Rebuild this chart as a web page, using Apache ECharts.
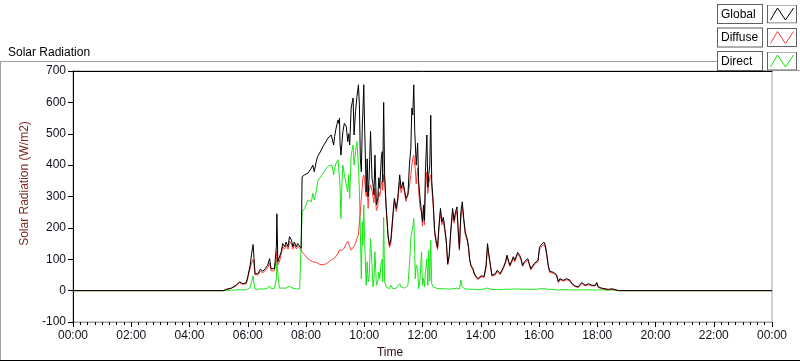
<!DOCTYPE html>
<html>
<head>
<meta charset="utf-8">
<script src="https://cdn.jsdelivr.net/npm/echarts@6/dist/echarts.min.js"></script>
<style>
html,body{margin:0;padding:0;background:#fff;}
#chart{width:800px;height:361px;}
</style>
</head>
<body>
<div id="chart"></div>
<script>
// ---- data (time of day, W/m2) ----
const times = [
"00:00","05:10","05:16","05:26","05:36","05:43","05:50","05:57","06:00","06:05",
"06:08","06:11","06:13","06:15","06:21","06:26","06:31","06:36","06:41","06:45",
"06:48","06:52","06:55","06:59","07:00","07:02","07:05","07:09","07:12","07:16",
"07:19","07:23","07:26","07:30","07:33","07:36","07:40","07:43","07:47","07:50",
"07:51","07:52","07:57","08:00","08:04","08:07","08:11","08:14","08:17","08:21",
"08:24","08:28","08:31","08:35","08:38","08:42","08:45","08:48","08:52","08:54",
"08:57","08:59","09:02","09:06","09:08","09:09","09:10","09:12","09:14","09:16",
"09:19","09:23","09:26","09:28","09:30","09:33","09:37","09:39","09:42","09:45",
"09:48","09:50","09:52","09:54","09:56","09:57","09:59","10:01","10:04","10:06",
"10:08","10:10","10:13","10:16","10:18","10:20","10:22","10:25","10:28","10:30",
"10:32","10:35","10:37","10:38","10:40","10:42","10:45","10:49","10:52","10:55",
"10:59","11:02","11:06","11:09","11:13","11:16","11:20","11:23","11:26","11:30",
"11:33","11:36","11:38","11:40","11:42","11:44","11:45","11:47","11:50","11:52",
"11:55","11:58","12:00","12:02","12:04","12:06","12:09","12:11","12:13","12:15",
"12:17","12:19","12:22","12:25","12:28","12:31","12:34","12:37","12:40","12:43",
"12:46","12:49","12:52","12:55","12:58","13:02","13:05","13:08","13:11","13:13",
"13:16","13:19","13:22","13:25","13:28","13:32","13:35","13:37","13:40","13:44",
"13:47","13:51","13:54","13:57","14:01","14:04","14:07","14:11","14:14","14:16",
"14:20","14:23","14:27","14:30","14:34","14:37","14:40","14:44","14:47","14:51",
"14:54","14:57","15:00","15:03","15:07","15:10","15:13","15:16","15:20","15:23",
"15:26","15:30","15:33","15:37","15:40","15:43","15:47","15:50","15:54","15:58",
"16:01","16:04","16:07","16:10","16:13","16:16","16:19","16:22","16:26","16:30",
"16:33","16:36","16:40","16:43","16:47","16:50","16:54","16:57","17:01","17:04",
"17:08","17:11","17:14","17:18","17:21","17:25","17:28","17:31","17:35","17:38",
"17:42","17:45","17:49","17:52","17:56","17:59","18:02","18:06","18:09","18:13",
"18:16","18:20","18:23","18:26","18:30","18:33","18:37","18:40","18:44","24:00"
];

const globalRad = [
0,0,4,8,17,28,22,25,44,81,
118,147,102,54,54,68,62,70,81,102,
70,68,70,140,245,92,97,124,150,140,
155,140,172,161,140,155,140,150,155,135,
129,363,369,374,374,379,390,400,379,411,
427,438,443,459,467,477,486,491,496,502,
464,491,518,544,533,550,475,432,470,507,
533,523,475,500,464,582,614,496,571,619,
656,592,420,379,528,560,656,507,315,420,
300,358,507,358,340,305,432,273,294,360,
326,420,443,347,600,369,273,177,145,166,
241,294,262,294,369,326,347,353,294,305,
400,454,582,560,656,507,475,400,470,350,
294,288,219,273,224,379,496,330,371,400,
559,351,283,192,160,138,209,262,219,234,
198,160,86,113,187,262,224,251,267,209,
134,251,283,230,187,166,138,102,80,70,
53,49,38,40,47,49,46,81,150,124,
81,49,44,54,65,60,54,49,76,92,
113,118,81,92,108,97,102,122,113,102,
81,92,97,102,86,70,76,86,86,97,
138,145,140,155,145,117,81,62,65,58,
54,51,28,38,36,33,30,38,44,33,
22,17,15,15,12,17,26,22,17,19,
22,19,17,15,17,26,12,8,8,6,
6,6,4,6,6,4,3,2,0,0
];

const diffuseRad = [
0,0,4,7,15,25,20,22,40,72,
88,100,82,50,50,62,57,64,73,88,
63,62,63,100,125,82,90,116,140,132,
146,132,158,148,132,146,133,142,146,130,
124,122,115,108,102,98,95,92,91,90,
87,84,81,82,83,86,89,93,97,100,
102,104,110,118,124,130,128,124,128,134,
136,150,158,150,140,129,134,142,150,166,
177,219,251,294,330,358,369,350,300,337,
262,320,337,320,315,280,326,255,270,315,
300,337,350,320,370,355,262,170,138,150,
232,284,252,284,345,312,337,342,284,288,
330,370,400,420,432,400,390,340,390,320,
265,250,205,255,210,320,379,310,340,360,
369,330,270,182,152,130,200,250,210,222,
190,152,82,108,180,250,215,240,255,200,
128,230,265,220,180,160,132,97,76,66,
50,46,35,37,44,45,42,75,140,117,
77,46,41,50,61,56,51,46,72,87,
107,112,77,87,103,92,97,116,108,97,
77,88,92,97,82,66,72,82,82,92,
131,138,133,148,138,111,77,58,61,55,
51,48,26,35,33,30,27,35,41,30,
20,15,13,13,10,15,23,19,15,17,
19,17,15,13,15,23,10,6,6,4,
4,4,3,4,4,3,2,2,0,0
];

const directRad = [
0,0,0,1,2,3,2,3,4,10,
30,47,20,5,4,6,5,6,8,15,
7,6,7,40,100,54,8,8,8,7,
8,6,14,17,8,6,5,5,6,4,
4,251,262,273,289,294,283,310,289,315,
347,358,363,374,381,390,395,400,403,398,
369,390,406,417,412,423,337,230,340,400,
369,337,315,369,294,432,464,400,443,475,
400,315,187,38,219,145,273,150,17,92,
28,40,166,81,12,38,124,17,28,60,
38,92,100,28,233,28,12,6,6,17,
6,8,8,8,22,12,8,8,10,17,
81,166,187,200,230,124,38,81,70,6,
38,124,17,40,12,60,102,17,129,30,
160,22,12,8,8,6,6,8,6,8,
6,6,5,5,5,8,6,8,8,6,
5,33,12,6,5,5,5,5,4,4,
4,4,3,3,4,4,5,6,8,6,
4,3,3,4,4,4,3,3,4,5,
5,5,4,4,5,5,5,5,5,5,
4,4,5,5,4,4,4,4,4,5,
6,6,6,6,6,5,4,4,4,3,
3,3,2,3,3,3,3,3,3,3,
2,2,2,2,2,2,3,3,2,2,
3,2,2,2,2,3,2,2,2,2,
2,2,1,2,2,1,1,0,0,0
];

const seriesNames = ["Global", "Diffuse", "Direct"];
const seriesColors = ["#000000", "#ff3b3b", "#19e619"];
const yTicks = [-100, 700, 100];   // min, max, interval
const xTicks = [0, 24, 2];         // hours: min, max, interval

// ---- helpers ----
const toHours = s => { const p = s.split(":").map(Number); return p[0] + p[1] / 60; };
const pairs = vals => times.map((t, i) => [toHours(t), vals[i]]);
const pad2 = n => (n < 10 ? "0" : "") + n;

function legendIcon(color) {
  const svg = "<svg xmlns='http://www.w3.org/2000/svg' width='30' height='19'>" +
    "<rect x='0.5' y='0.5' width='29' height='18' fill='#ffffff' stroke='#606060'/>" +
    "<polyline points='3.5,15.5 10.5,3.5 18.5,15.5 26.5,3.5' fill='none' stroke='" + color + "' stroke-width='1'/>" +
    "</svg>";
  return "image://data:image/svg+xml;charset=utf-8," + encodeURIComponent(svg);
}

const FONT = "'Liberation Sans', Arial, sans-serif";
const chart = echarts.init(document.getElementById("chart"), null, { renderer: "canvas" });

const seriesData = [globalRad, diffuseRad, directRad];

chart.setOption({
  animation: false,
  backgroundColor: "#ffffff",
  textStyle: { fontFamily: FONT },
  title: {
    text: "Solar Radiation",
    left: 3, top: 42,
    textStyle: { fontSize: 12, fontWeight: "normal", color: "#000", fontFamily: FONT }
  },
  legend: {
    orient: "vertical",
    right: 3, top: 4,
    padding: 0,
    align: "right",
    itemWidth: 30, itemHeight: 19, itemGap: 3.5,
    selectedMode: false,
    data: seriesNames.map((n, i) => ({ name: n, icon: legendIcon(seriesColors[i]) })),
    formatter: name => "{a|" + name + "}",
    textStyle: {
      fontSize: 12, color: "#000", fontFamily: FONT,
      lineHeight: 15,
      padding: [2, 3, 1, 3],
      borderColor: "#606060", borderWidth: 1, backgroundColor: "#fff",
      rich: { a: { width: 38, align: "left", fontSize: 12, lineHeight: 15, color: "#000", fontFamily: FONT } }
    }
  },
  grid: {
    left: 73, right: 28, top: 71, bottom: 39,
    outerBoundsMode: "none",
    show: true, borderColor: "#a0a0a0", borderWidth: 1, backgroundColor: "#fff"
  },
  xAxis: [{
    type: "value",
    min: xTicks[0], max: xTicks[1], interval: xTicks[2],
    name: "Time", nameLocation: "middle", nameGap: 25,
    nameTextStyle: { fontSize: 12, color: "#2a1410", padding: [0, 65, 0, 0] },
    axisLine: { show: true, onZero: false, lineStyle: { color: "#a0a0a0", width: 1 } },
    axisTick: { show: true, length: 5, lineStyle: { color: "#000" } },
    minorTick: { show: true, splitNumber: 8, length: 3, lineStyle: { color: "#000" } },
    splitLine: { show: false },
    axisLabel: { margin: 8, fontSize: 12, color: "#10101a",
      formatter: v => pad2(v % 24) + ":00" }
  }, {
    type: "value", position: "top",
    min: xTicks[0], max: xTicks[1],
    axisLine: { show: true, onZero: false, lineStyle: { color: "#000", width: 1 } },
    axisTick: { show: false }, axisLabel: { show: false }, splitLine: { show: false }
  }],
  yAxis: {
    type: "value",
    min: yTicks[0], max: yTicks[1], interval: yTicks[2],
    name: "Solar Radiation (W/m2)", nameLocation: "middle", nameGap: 35,
    nameTextStyle: { fontSize: 12, color: "#7a2a1e", padding: [0, 0, 0, 26] },
    axisLine: { show: true, onZero: false, lineStyle: { color: "#000", width: 1 } },
    axisTick: { show: true, length: 5, lineStyle: { color: "#000" } },
    splitLine: { show: false },
    axisLabel: { margin: 7, fontSize: 12, color: "#10101a" }
  },
  graphic: [
    { type: "line", silent: true, shape: { x1: 0, y1: 61.5, x2: 717.5, y2: 61.5 }, style: { stroke: "#a0a0a0", lineWidth: 1 } },
    { type: "line", silent: true, shape: { x1: 717.5, y1: 61.5, x2: 717.5, y2: 70.5 }, style: { stroke: "#a0a0a0", lineWidth: 1 } },
    { type: "line", silent: true, shape: { x1: 717.5, y1: 70.5, x2: 800, y2: 70.5 }, style: { stroke: "#a0a0a0", lineWidth: 1 } },
    { type: "line", silent: true, shape: { x1: 0.5, y1: 61.5, x2: 0.5, y2: 360 }, style: { stroke: "#a0a0a0", lineWidth: 1 } },
    { type: "line", silent: true, shape: { x1: 0, y1: 360.5, x2: 800, y2: 360.5 }, style: { stroke: "#000000", lineWidth: 1 } }
  ],
  series: [2, 1, 0].map(i => ({
    name: seriesNames[i],
    type: "line",
    data: pairs(seriesData[i]),
    showSymbol: false,
    symbol: "none",
    z: 10 - i,
    lineStyle: { color: seriesColors[i], width: 1 },
    itemStyle: { color: seriesColors[i] }
  }))
});
</script>
</body>
</html>
